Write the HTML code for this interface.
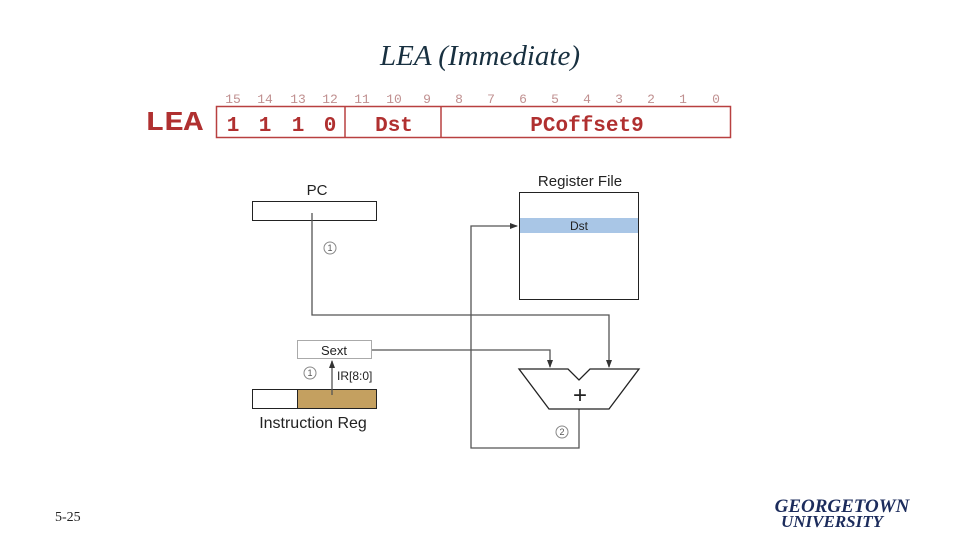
<!DOCTYPE html>
<html><head><style>
body{margin:0;width:960px;height:540px;background:#fff;overflow:hidden;position:relative;font-family:"Liberation Sans",sans-serif}
</style></head><body>
<svg width="960" height="540" viewBox="0 0 960 540" xmlns="http://www.w3.org/2000/svg">
<defs><marker id="a" markerWidth="8" markerHeight="8" refX="7" refY="4" orient="auto" markerUnits="userSpaceOnUse"><path d="M0,1 L8,4 L0,7 z" fill="#333"/></marker></defs>
<text x="480" y="65" text-anchor="middle" font-family="Liberation Serif" font-style="italic" font-size="29" fill="#183040">LEA (Immediate)</text>
<g font-family="Liberation Mono" font-size="13" fill="#c09090" text-anchor="middle">
<text x="233" y="103">15</text><text x="265" y="103">14</text><text x="298" y="103">13</text><text x="330" y="103">12</text><text x="362" y="103">11</text><text x="394" y="103">10</text><text x="427" y="103">9</text><text x="459" y="103">8</text><text x="491" y="103">7</text><text x="523" y="103">6</text><text x="555" y="103">5</text><text x="587" y="103">4</text><text x="619" y="103">3</text><text x="651" y="103">2</text><text x="683" y="103">1</text><text x="716" y="103">0</text>
</g>
<text x="145" y="130" font-family="Liberation Mono" font-weight="bold" font-size="27" fill="#b03030" textLength="58" lengthAdjust="spacingAndGlyphs">LEA</text>
<rect x="216.5" y="106.5" width="514" height="31" fill="none" stroke="#b84040" stroke-width="1.5"/>
<line x1="345" y1="106" x2="345" y2="138" stroke="#b84040" stroke-width="1.5"/>
<line x1="441" y1="106" x2="441" y2="138" stroke="#b84040" stroke-width="1.5"/>
<g font-family="Liberation Mono" font-weight="bold" font-size="21" fill="#b03030" text-anchor="middle">
<text x="233" y="131">1</text><text x="265" y="131">1</text><text x="298" y="131">1</text><text x="330" y="131">0</text>
<text x="394" y="131">Dst</text><text x="587" y="131">PCoffset9</text>
</g>
<g font-size="15" fill="#222" text-anchor="middle">
<text x="317" y="195">PC</text><text x="580" y="186">Register File</text>
</g>
<text x="313" y="428" font-size="16" fill="#222" text-anchor="middle">Instruction Reg</text>
<rect x="252.5" y="201.5" width="124" height="19" fill="#fff" stroke="#222"/>
<rect x="519.5" y="192.5" width="119" height="107" fill="#fff" stroke="#222"/>
<rect x="520" y="218" width="118" height="15" fill="#a9c6e6"/>
<text x="579" y="230" font-size="12" text-anchor="middle" fill="#222">Dst</text>
<g fill="none" stroke="#555" stroke-width="1.3">
<polyline points="312,213 312,315 609,315 609,367" marker-end="url(#a)"/>
<polyline points="372,350 550,350 550,367" marker-end="url(#a)"/>
<polyline points="579,409 579,448 471,448 471,226 517,226" marker-end="url(#a)"/>
</g>
<rect x="297.5" y="340.5" width="74" height="18" fill="#fff" stroke="#aaa"/>
<text x="334" y="355" font-size="13" text-anchor="middle" fill="#222">Sext</text>
<polygon points="519,369 568,369 579,380 590,369 639,369 609,409 549,409" fill="#fff" stroke="#222" stroke-width="1.3"/>
<text x="580" y="403" font-size="24" text-anchor="middle" fill="#222">+</text>
<rect x="252.5" y="389.5" width="124" height="19" fill="#fff" stroke="#222"/>
<rect x="297.5" y="389.5" width="79" height="19" fill="#c4a060" stroke="#222"/>
<line x1="332" y1="395" x2="332" y2="361" stroke="#555" stroke-width="1.3" marker-end="url(#a)"/>
<text x="337" y="380" font-size="12" fill="#222">IR[8:0]</text>
<g fill="none" stroke="#888"><circle cx="330" cy="248" r="6"/><circle cx="310" cy="373" r="6"/><circle cx="562" cy="432" r="6"/></g>
<g font-size="9" fill="#555" text-anchor="middle"><text x="330" y="251">1</text><text x="310" y="376">1</text><text x="562" y="435">2</text></g>
<text x="55" y="521" font-family="Liberation Serif" font-size="14" fill="#222">5-25</text>
<g font-family="Liberation Serif" font-style="italic" font-weight="bold" fill="#1c2c5c" text-anchor="middle">
<text x="842" y="512" font-size="19">GEORGETOWN</text>
<text x="832" y="527" font-size="17">UNIVERSITY</text>
</g>
</svg>
</body></html>
